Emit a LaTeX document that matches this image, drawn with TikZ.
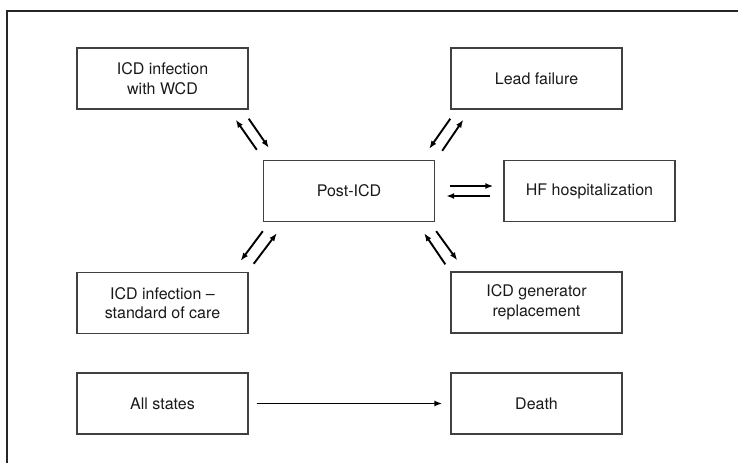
\documentclass[tikz,border=0pt]{standalone}
\usepackage{fontspec}
\setmainfont{TeX Gyre Heros}
\usetikzlibrary{arrows.meta}
\begin{document}
\begin{tikzpicture}[x=1pt,y=-1pt,
  statebox/.style={draw=black!75, line width=1.4pt, minimum width=171pt, minimum height=61pt,
    inner sep=0pt, align=center, font=\fontsize{16}{19.5}\selectfont, text=black!90},
  arr/.style={line width=1.9pt, -{Latex[length=8pt,width=6pt]}}]
\useasboundingbox (0,0) rectangle (738,463);
\draw[line width=2.6pt, black!85] (7,463) -- (7,11) -- (738,11);
\node[statebox] (wcd) at (162.5,78.5) {ICD infection\\with WCD};
\node[statebox] (lead) at (536.5,78.5) {Lead failure};
\node[statebox] (post) at (349,191) {Post-ICD};
\node[statebox] (hf) at (589.5,191) {HF hospitalization};
\node[statebox] (std) at (162.5,303) {ICD infection –\\standard of care};
\node[statebox] (gen) at (536.5,302.5) {ICD generator\\replacement};
\node[statebox] (all) at (162.5,403.5) {All states};
\node[statebox] (death) at (536.5,403.5) {Death};
% WCD <-> Post
\draw[arr] ([shift={(-6,-10)}]post.north west) -- ([shift={(-13,10)}]wcd.south east);
\draw[arr] ([shift={(0,9)}]wcd.south east) -- ([shift={(6,-12)}]post.north west);
% Lead <-> Post
\draw[arr] ([shift={(0,9)}]lead.south west) -- ([shift={(-6,-11)}]post.north east);
\draw[arr] ([shift={(7,-9)}]post.north east) -- ([shift={(13,10)}]lead.south west);
% HF <-> Post
\draw[arr] ([shift={(15,-5)}]post.east) -- ([shift={(-10,-5)}]hf.west);
\draw[arr] ([shift={(-13,5)}]hf.west) -- ([shift={(11,5)}]post.east);
% Std <-> Post
\draw[arr] ([shift={(0,9)}]post.south west) -- ([shift={(-8,-11)}]std.north east);
\draw[arr] ([shift={(5,-8)}]std.north east) -- ([shift={(14,11)}]post.south west);
% Gen <-> Post
\draw[arr] ([shift={(-5,-7)}]gen.north west) -- ([shift={(-11,11)}]post.south east);
\draw[arr] ([shift={(1,9)}]post.south east) -- ([shift={(7,-11)}]gen.north west);
% All -> Death
\draw[arr] ([shift={(8,0)}]all.east) -- ([shift={(-8,0)}]death.west);
\end{tikzpicture}
\end{document}
